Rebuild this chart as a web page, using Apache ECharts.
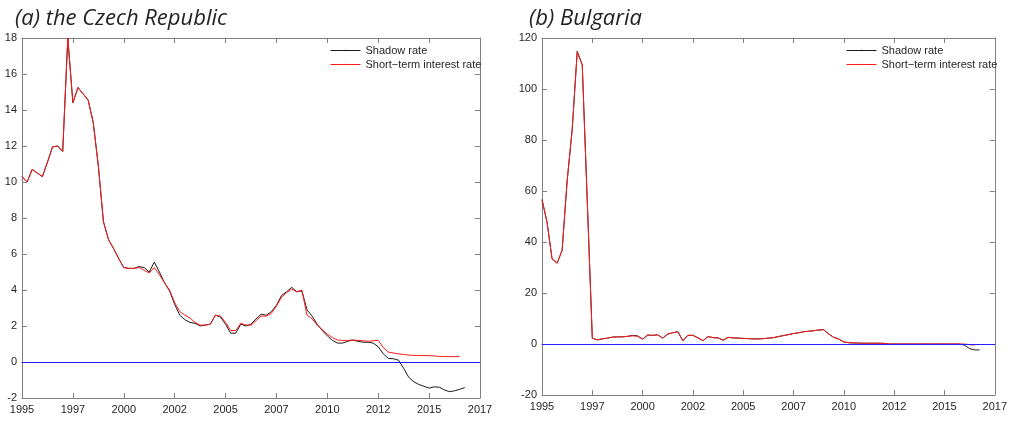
<!DOCTYPE html>
<html>
<head>
<meta charset="utf-8">
<script src="https://cdn.jsdelivr.net/npm/echarts@6/dist/echarts.min.js"></script>
<style>
html,body{margin:0;padding:0;background:#fff}
#wrap{position:relative;width:1010px;height:423px}
#a{position:absolute;left:0;top:0;width:505px;height:423px}
#b{position:absolute;left:505px;top:0;width:505px;height:423px}
</style>
</head>
<body>
<div id="wrap"><div id="a"></div><div id="b"></div></div>
<script>
// Quarterly observations starting 1995Q1
const startYear = 1995;
const xTickLabels = ['1995','1997','2000','2002','2005','2007','2010','2012','2015','2017'];
const czTitle = '(a) the Czech Republic';
const bgTitle = '(b) Bulgaria';
const seriesNames = ['Shadow rate', 'Short\u2212term interest rate'];

const czShort = [10.3,10.0,10.7,10.5,10.3,11.1,11.95,12.0,11.7,18.0,
14.4,15.25,14.9,14.55,13.3,10.9,7.8,6.8,6.3,5.75,
5.25,5.2,5.2,5.25,5.1,4.95,5.25,4.85,4.4,4.0,
3.3,2.8,2.6,2.45,2.2,2.05,2.05,2.1,2.6,2.55,
2.2,1.75,1.75,2.15,2.05,2.05,2.3,2.55,2.55,2.7,
3.1,3.6,3.85,4.05,3.9,4.0,2.6,2.4,2.05,1.8,
1.55,1.35,1.22,1.2,1.2,1.22,1.2,1.18,1.15,1.18,
1.2,0.8,0.55,0.5,0.45,0.42,0.38,0.37,0.36,0.36,
0.35,0.34,0.31,0.3,0.3,0.3,0.3];

const czShadow = [10.3,10.0,10.7,10.5,10.3,11.1,11.95,12.0,11.7,18.0,
14.4,15.25,14.9,14.55,13.3,10.9,7.8,6.8,6.3,5.75,
5.25,5.2,5.2,5.3,5.25,5.0,5.55,5.0,4.4,3.95,
3.2,2.6,2.35,2.2,2.15,2.0,2.05,2.1,2.6,2.5,
2.1,1.6,1.6,2.1,2.0,2.1,2.4,2.65,2.6,2.8,
3.15,3.7,3.9,4.15,3.9,3.95,2.9,2.55,2.1,1.75,
1.45,1.2,1.05,1.05,1.15,1.22,1.15,1.1,1.1,1.05,
0.85,0.45,0.2,0.18,0.1,-0.35,-0.85,-1.1,-1.25,-1.35,
-1.45,-1.38,-1.4,-1.55,-1.65,-1.6,-1.52,-1.42];

const bgShort = [56.6,47.8,33.4,31.7,36.7,64,84,114.4,109.5,56,
2.3,1.6,2.0,2.3,2.7,2.8,2.8,3.0,3.2,3.0,
1.9,3.5,3.4,3.6,2.3,3.9,4.4,4.8,1.3,3.4,
3.4,2.4,1.3,2.9,2.5,2.4,1.5,2.6,2.4,2.3,
2.2,2.1,2.0,2.0,2.1,2.3,2.5,2.9,3.3,3.7,
4.1,4.4,4.8,5.0,5.2,5.5,5.6,3.9,2.6,1.9,
0.8,0.5,0.4,0.35,0.3,0.3,0.3,0.3,0.25,0,
0,0,0,0,0,0,0,0,0,0,
0,0,0,0,0,-0.3,-0.4];

const bgShadow = [56.6,47.8,33.4,31.7,36.7,64,84,114.8,109.5,56,
2.3,1.6,2.0,2.3,2.7,2.8,2.8,3.0,3.4,3.2,
1.9,3.5,3.4,3.6,2.3,3.9,4.4,4.8,1.3,3.4,
3.4,2.4,1.3,2.9,2.5,2.4,1.5,2.6,2.4,2.3,
2.2,2.1,2.0,2.0,2.1,2.3,2.5,2.9,3.3,3.7,
4.1,4.4,4.8,5.0,5.2,5.5,5.6,3.9,2.6,1.9,
0.8,0.5,0.4,0.35,0.3,0.3,0.3,0.3,0.25,0,
0,0,0,0,0,0,0,0,0,0,
0,0,0,0,-0.5,-1.8,-2.3,-2.35];

const pairs = arr => arr.map((v, i) => [startYear + i * 0.25, v]);

const axisColor = '#808080';
const labelStyle = {color: '#262626', fontFamily: 'Liberation Sans, Arial', fontSize: 11};
const titleStyle = {fontFamily: 'Open Sans', fontStyle: 'italic', fontWeight: 'normal', fontSize: 22, color: '#222'};

function panel(el, o) {
  const xBase = {
    type: 'value', min: 1995, max: 2017.5, interval: 2.5,
    axisLine: {show: true, onZero: false, lineStyle: {color: axisColor, width: 1}},
    axisTick: {show: true, inside: true, length: 5, lineStyle: {color: axisColor}},
    splitLine: {show: false}
  };
  const yBase = {
    type: 'value', min: o.yMin, max: o.yMax, interval: o.yInterval,
    axisLine: {show: true, onZero: false, lineStyle: {color: axisColor, width: 1}},
    axisTick: {show: true, inside: true, length: 5, lineStyle: {color: axisColor}},
    splitLine: {show: false}
  };
  const chart = echarts.init(el, null, {renderer: 'canvas'});
  chart.setOption({
    animation: false,
    title: {text: o.title, left: o.titleLeft, top: 3, textStyle: titleStyle},
    legend: {orient: 'vertical', left: o.legendLeft, top: 45, itemWidth: 30, itemHeight: 2, itemGap: 3,
      lineStyle: {width: 1}, textStyle: {color: '#262626', fontFamily: 'Liberation Sans, Arial', fontSize: 11},
      data: seriesNames, selectedMode: false, padding: 0},
    grid: {left: o.left, top: 38, right: o.right, bottom: o.bottom, containLabel: false},
    xAxis: [
      Object.assign({}, xBase, {position: 'bottom', axisLabel: Object.assign({}, labelStyle, {margin: 6,
        formatter: v => xTickLabels[Math.round((v - 1995) / 2.5)]})}),
      Object.assign({}, xBase, {position: 'top', axisLabel: {show: false}}),
      {type: 'value', min: 1995, max: 2017.5, position: 'bottom', z: 10,
        axisLine: {show: true, onZero: true, onZeroAxisIndex: 0, lineStyle: {color: '#2020ff', width: 1}},
        axisTick: {show: false}, axisLabel: {show: false}, splitLine: {show: false}}
    ],
    yAxis: [
      Object.assign({}, yBase, {position: 'left', axisLabel: Object.assign({}, labelStyle, {margin: 5})}),
      Object.assign({}, yBase, {position: 'right', axisLabel: {show: false}})
    ],
    series: [
      {name: seriesNames[0], type: 'line', data: pairs(o.shadow), symbol: 'none',
        lineStyle: {color: '#1a1a1a', width: 1}, itemStyle: {color: '#1a1a1a'}, z: 2},
      {name: seriesNames[1], type: 'line', data: pairs(o.short), symbol: 'none',
        lineStyle: {color: '#ff1a1a', width: 1}, itemStyle: {color: '#ff1a1a'}, z: 3}
    ]
  });
}

panel(document.getElementById('a'), {title: czTitle, titleLeft: 10, legendLeft: 330,
  left: 22, right: 25, bottom: 25, yMin: -2, yMax: 18, yInterval: 2, shadow: czShadow, short: czShort});
panel(document.getElementById('b'), {title: bgTitle, titleLeft: 19, legendLeft: 341,
  left: 37, right: 14, bottom: 28, yMin: -20, yMax: 120, yInterval: 20, shadow: bgShadow, short: bgShort});
</script>
</body>
</html>
